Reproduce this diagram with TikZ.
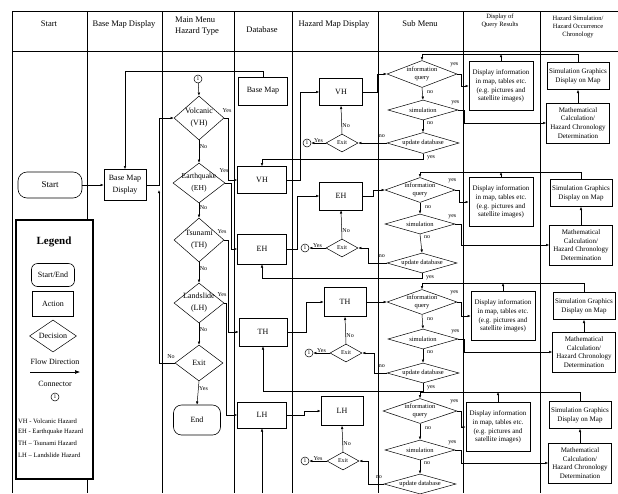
\documentclass[tikz,border=0pt]{standalone}
\usepackage{fontspec}
\setmainfont{Liberation Serif}
\usetikzlibrary{arrows.meta,shapes.geometric,calc}
\newcommand\dnode[7]{\node[dia,minimum width=#4,minimum height=#5] (#1) at (#2,#3) {};\node[#6,align=center,inner sep=0] (#1t) at (#1.center) {#7};}
\begin{document}
\begin{tikzpicture}[x=1pt,y=-1pt,
  every node/.style={inner sep=1pt},
  arr/.style={-{Latex[length=3.2pt,width=2.6pt]}, line width=0.5pt},
  ln/.style={line width=0.5pt},
  box/.style={draw, line width=0.6pt, fill=white, align=center, inner sep=0.5pt},
  term/.style={draw, line width=0.6pt, fill=white, rounded corners=8pt, align=center},
  dia/.style={draw, diamond, line width=0.5pt, fill=white, inner sep=0},
  conn/.style={draw, circle, inner sep=0, minimum size=8, line width=0.5pt, font=\fontsize{5.5}{6}\selectfont},
  lab/.style={font=\fontsize{6}{7}\selectfont, inner sep=0.5pt},
  fh/.style={font=\fontsize{8.5}{11}\selectfont},
  fhs/.style={font=\fontsize{6.5}{8}\selectfont},
  fm/.style={font=\fontsize{8}{12}\selectfont},
  fme/.style={font=\fontsize{7.6}{12}\selectfont},
  fq/.style={font=\fontsize{6.5}{8}\selectfont},
  fx/.style={font=\fontsize{6}{7}\selectfont},
  fd/.style={font=\fontsize{7}{8.8}\selectfont},
  fl/.style={font=\fontsize{6.6}{8}\selectfont},
]
\useasboundingbox (0,0) rectangle (618,493);
\fill[white] (0,0) rectangle (618,493);
% grid
\draw[line width=0.6pt] (12,11) -- (618,11);
\draw[line width=0.6pt] (12,51) -- (618,51);
\foreach \x in {12,87,162,234,292,378,463,540} \draw[line width=0.6pt] (\x,11) -- (\x,493);
% header
\node[fh] (h1) at (49,24) {Start};
\node[fh] (h2) at (124,24) {Base Map Display};
\node[fh,align=left] (h3) at (197,26) {Main Menu\\Hazard Type};
\node[fh] (h4) at (262,30) {Database};
\node[fh] (h5) at (334,24) {Hazard Map Display};
\node[fh] (h6) at (420,24) {Sub Menu};
\node[fhs,align=center] (h7) at (500,21) {Display of\\Query Results};
\node[fhs,align=center] (h8) at (578,27) {Hazard Simulation/\\Hazard Occurrence\\Chronology};

% legend
\draw[line width=1.1pt, fill=white] (16,220) rectangle (93,479);
\node[font=\bfseries\fontsize{11}{12}\selectfont] (lg) at (54,242) {Legend};
\node[term, fm, minimum width=43, minimum height=23, rounded corners=6pt] (lse) at (53,275) {Start/End};
\node[box, fm, minimum width=41, minimum height=25] (lact) at (53,304) {Action};
\dnode{ldec}{53}{336}{47}{32}{fm}{Decision}
\node[fm] (lfd) at (55,362) {Flow Direction};
\coordinate (la1) at (30,372); \coordinate (la2) at (80,372);
\draw[-{Latex[length=5pt,width=4pt]}, line width=0.6pt] (la1) -- (la2);
\node[fm] (lcn) at (55,384) {Connector};
\node[conn] (lc) at (55,397) {1};
\node[fl,anchor=west] (lt1) at (17,421) {VH - Volcanic Hazard};
\node[fl,anchor=west] (lt2) at (17,432) {EH - Earthquake Hazard};
\node[fl,anchor=west] (lt3) at (17,443) {TH -- Tsunami Hazard};
\node[fl,anchor=west] (lt4) at (17,455) {LH -- Landslide Hazard};

% start / base map display
\node[term, font=\fontsize{9}{10}\selectfont, minimum width=64, minimum height=26, rounded corners=9pt] (Start) at (50,185) {Start};
\node[box, fm, minimum width=42, minimum height=31, align=center] (BMD) at (125,185) {Base Map\\Display};
\draw[arr] (Start.east) -- (BMD.west);

% main menu
\node[conn] (c0) at (198,79) {1};
\dnode{V}{199}{118}{50}{44}{fm}{Volcanic\\(VH)}
\dnode{E}{199}{183}{52}{40}{fme}{Earthquake\\(EH)}
\dnode{T}{199}{240}{50}{44}{fm}{Tsunami\\(TH)}
\dnode{L}{199}{303}{50}{40}{fm}{Landslide\\(LH)}
\dnode{X}{199}{363}{48}{36}{fm}{Exit}
\node[term, fm, minimum width=47, minimum height=30] (End) at (197,420) {End};
\draw[arr] (c0) -- (V.north);
\draw[arr] (V.south) -- (E.north) node[lab,pos=0.3,right] {No};
\draw[arr] (E.south) -- (T.north) node[lab,pos=0.3,right] {No};
\draw[arr] (T.south) -- (L.north) node[lab,pos=0.3,right] {No};
\draw[arr] (L.south) -- (X.north) node[lab,pos=0.3,right] {No};
\draw[arr] (X.south) -- (End.north) node[lab,pos=0.3,right] {Yes};
\node[lab] (vy) at (227,111) {Yes};
\node[lab] (ey) at (224,171) {Yes};
\node[lab] (ty) at (222,232) {Yes};
\node[lab] (ly) at (222,295) {Yes};
\node[lab] (xn) at (171,357) {No};
\draw[arr] (BMD.east) -- (159,185) |- (V.west);
\draw[arr] (X.west) -- (159,363) -- (159,190);

% database
\node[box, fm, minimum width=49, minimum height=28] (BM) at (263,91) {Base Map};
\node[box, fm, minimum width=49, minimum height=27] (VHd) at (262,180) {VH};
\node[box, fm, minimum width=49, minimum height=30] (EHd) at (262,249) {EH};
\node[box, fm, minimum width=48, minimum height=28] (THd) at (263,332) {TH};
\node[box, fm, minimum width=49, minimum height=26] (LHd) at (262,415) {LH};
\draw[arr] (BM.north) -- (263,71) -| (BMD.north);
\draw[arr] (V.east) -- (228,118) |- (VHd.west);
\draw[arr] (E.east) -- (231,183) |- (EHd.west);
\draw[arr] (T.east) -- (228,240) |- (THd.west);
\draw[arr] (L.east) -- (226,303) |- (LHd.west);

% hazard map display
\node[box, fm, minimum width=43, minimum height=27] (VHm) at (341,92) {VH};
\node[box, fm, minimum width=43, minimum height=28] (EHm) at (341,196) {EH};
\node[box, fm, minimum width=42, minimum height=29] (THm) at (345,302) {TH};
\node[box, fm, minimum width=42, minimum height=29] (LHm) at (342,411) {LH};
\draw[arr] (VHd.east) -- (300,180) |- (VHm.west);
\draw[arr] (EHd.east) -- (297,249) |- (EHm.west);
\draw[arr] (THd.east) -- (306,332) |- (THm.west);
\draw[arr] (LHd.east) -- (304,415) |- (LHm.west);

\dnode{X1}{342}{143}{32}{18}{fx}{Exit}
\dnode{X2}{342}{248}{32}{18}{fx}{Exit}
\dnode{X3}{346}{353}{32}{18}{fx}{Exit}
\dnode{X4}{343}{461}{32}{18}{fx}{Exit}
\node[conn] (C1) at (307,143) {1};
\node[conn] (C2) at (305,248) {1};
\node[conn] (C3) at (309,353) {1};
\node[conn] (C4) at (305,461) {1};
\foreach \i/\m in {1/VHm,2/EHm,3/THm,4/LHm}{
  \draw[arr] (X\i.north) -- (\m.south) node[lab,pos=0.3,right] {No};
  \draw[arr] (X\i.west) -- (C\i.east) node[lab,midway,above] {Yes};
}

% sub menu
\dnode{IQ1}{422}{74}{70}{27}{fq}{information\\query}
\dnode{SIM1}{423}{110}{70}{20}{fq}{simulation}
\dnode{UD1}{423}{143}{72}{21}{fq}{update database}
\dnode{IQ2}{420}{190}{70}{25}{fq}{information\\query}
\dnode{SIM2}{420}{224}{70}{20}{fq}{simulation}
\dnode{UD2}{422}{263}{70}{20}{fq}{update database}
\dnode{IQ3}{422}{302}{70}{25}{fq}{information\\query}
\dnode{SIM3}{423}{339}{70}{20}{fq}{simulation}
\dnode{UD3}{423}{373}{72}{20}{fq}{update database}
\dnode{IQ4}{420}{411}{74}{25}{fq}{information\\query}
\dnode{SIM4}{420}{450}{70}{20}{fq}{simulation}
\dnode{UD4}{420}{484}{72}{20}{fq}{update database}

\draw[arr] (VHm.east) -- (377,92) |- (IQ1.west);
\draw[arr] (EHm.east) -- (373,196) |- (IQ2.west);
\draw[arr] (THm.east) -- (IQ3.west);

\foreach \i in {1,2,3,4}{
  \draw[arr] (IQ\i.south) -- (SIM\i.north);
  \draw[arr] (SIM\i.south) -- (UD\i.north);
  \node[lab] at ($(IQ\i.east)+(-3,-9)$) {yes};
  \node[lab] at ($(IQ\i.south)+(8,4)$) {no};
  \node[lab] at ($(SIM\i.east)+(-3,-7)$) {yes};
  \node[lab] at ($(SIM\i.south)+(7,3)$) {no};
  \node[lab] at ($(UD\i.west)+(-5,-7)$) {no};
}
\foreach \i in {1,2,3}{
  \node[lab] at ($(UD\i.south)+(8,4)$) {yes};
}
\draw[arr] (UD1.west) -- (X1.east);
\draw[arr] (UD2.west) -- (368,263) |- (X2.east);
\draw[arr] (UD3.west) -- (374,373) |- (X3.east);
\draw[arr] (UD4.west) -- (368,484) |- (X4.east);
\draw[arr] (UD1.south) -- (423,159) -| (VHd.north);
\draw[arr] (UD2.south) -- (422,278) -| (EHd.south);
\draw[arr] (UD3.south) -- (423,391) -| (THd.south);
\coordinate (lhin) at (262,493);
\draw[arr] (lhin) -- (LHd.south);

% display of query results
\foreach \i/\x/\y in {1/501/86,2/501/202,3/503/316,4/498/427}{
  \node[box, fd, minimum width=64, minimum height=49] (D\i) at (\x,\y) {Display information\\in map, tables etc.\\(e.g. pictures and\\satellite images)};
}
% simulation
\foreach \i/\x/\ys/\ym in {1/578/76/123,2/581/193/245,3/584/306/352,4/580/415/463}{
  \node[box, fd, minimum width=62, minimum height=27] (SG\i) at (\x,\ys) {Simulation Graphics\\Display on Map};
  \node[box, fd, minimum width=63, minimum height=40] (MC\i) at (\x,\ym) {Mathematical\\Calculation/\\Hazard Chronology\\Determination};
  \draw[arr] (MC\i.north) -- (SG\i.south);
}
\foreach \i/\yl in {1/54,2/172,3/283,4/392}{
  \draw[arr] (SG\i.north) -- (SG\i.north |- 0,\yl) -| (IQ\i.north);
  \draw[arr] (D\i.north) -- (D\i.north |- 0,\yl);
  \draw[arr] (IQ\i.east) -- ++(4,0) |- (D\i.west);
  \draw[arr] (SIM\i.east) -- ++(6,0) |- (MC\i.west);
}
\end{tikzpicture}
\end{document}
